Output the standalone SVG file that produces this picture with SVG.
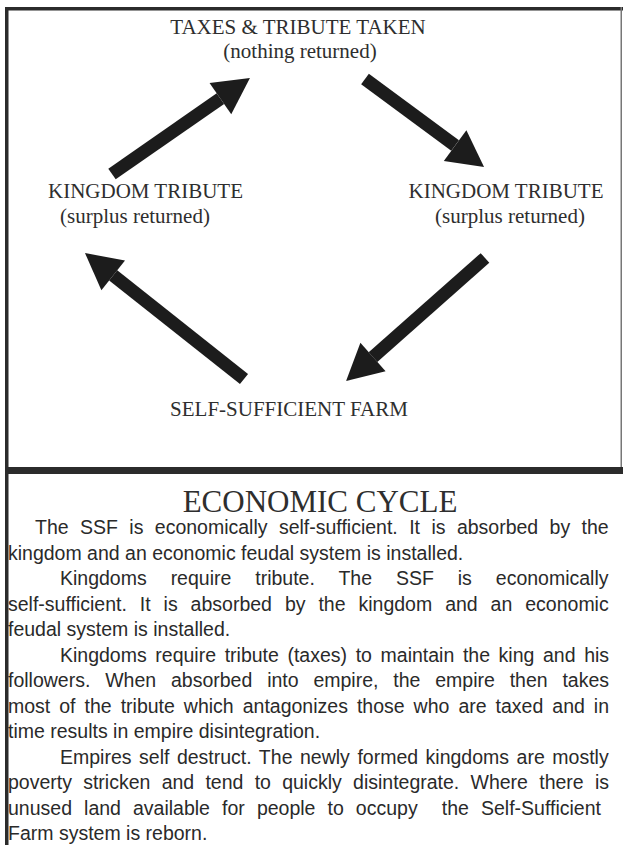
<svg xmlns="http://www.w3.org/2000/svg" width="623" height="845" viewBox="0 0 623 845">
  <style>
    .lbl { font-family: "Liberation Serif", "Times New Roman", serif; font-size: 21px; fill: #2e2e2e; }
    .title { font-family: "Liberation Serif", "Times New Roman", serif; font-size: 31px; fill: #2e2e2e; }
    .body { font-family: "Liberation Sans", Arial, sans-serif; font-size: 19.5px; fill: #2a2a2a; }
    .frame { fill: #2b2b2b; }
    .conn { stroke: #1c1c1c; stroke-width: 13; fill: none; marker-end: url(#head); }
  </style>
  <defs>
    <marker id="head" markerUnits="userSpaceOnUse" markerWidth="40" markerHeight="40" viewBox="0 -20 40 40" refX="0" refY="0" orient="auto" overflow="visible">
      <path d="M0,-19 L36,0 L0,19 Z" fill="#1c1c1c"/>
    </marker>
  </defs>
  <rect width="623" height="845" fill="#ffffff"/>
  <g id="frame">
    <rect class="frame" x="5" y="7" width="618" height="3.5"/>
    <rect class="frame" x="5" y="7" width="3.5" height="838"/>
    <rect x="620.5" y="7" width="1.5" height="462" fill="#777"/>
    <rect class="frame" x="5" y="467" width="618" height="7"/>
  </g>
  <g id="connectors">
    <line class="conn" x1="112" y1="174" x2="220.4" y2="98.6"/>
    <line class="conn" x1="365" y1="79" x2="455.1" y2="145.6"/>
    <line class="conn" x1="485" y1="258" x2="373" y2="357.1"/>
    <line class="conn" x1="244" y1="379" x2="113.2" y2="275.4"/>
  </g>
  <g id="node-taxes">
    <text class="lbl" x="298" y="34" text-anchor="middle">TAXES &amp; TRIBUTE TAKEN</text>
    <text class="lbl" x="300" y="58" text-anchor="middle">(nothing returned)</text>
  </g>
  <g id="node-kingdom-left">
    <text class="lbl" x="48" y="198">KINGDOM TRIBUTE</text>
    <text class="lbl" x="60" y="223">(surplus returned)</text>
  </g>
  <g id="node-kingdom-right">
    <text class="lbl" x="506" y="198" text-anchor="middle">KINGDOM TRIBUTE</text>
    <text class="lbl" x="510" y="223" text-anchor="middle">(surplus returned)</text>
  </g>
  <g id="node-farm">
    <text class="lbl" x="289" y="416" text-anchor="middle">SELF-SUFFICIENT FARM</text>
  </g>
  <g id="panel">
    <text class="title" x="320" y="512" text-anchor="middle">ECONOMIC CYCLE</text>
    <text class="body" x="35" y="534" word-spacing="5.98">The SSF is economically self-sufficient. It is absorbed by the</text>
    <text class="body" x="8" y="559.5">kingdom and an economic feudal system is installed.</text>
    <text class="body" x="60" y="585" word-spacing="18.5">Kingdoms require tribute. The SSF is economically</text>
    <text class="body" x="8" y="610.5" word-spacing="7.53">self-sufficient. It is absorbed by the kingdom and an economic</text>
    <text class="body" x="8" y="636">feudal system is installed.</text>
    <text class="body" x="60" y="661.5" word-spacing="3.2">Kingdoms require tribute (taxes) to maintain the king and his</text>
    <text class="body" x="8" y="687" word-spacing="9.42">followers. When absorbed into empire, the empire then takes</text>
    <text class="body" x="8" y="712.5" word-spacing="3.59">most of the tribute which antagonizes those who are taxed and in</text>
    <text class="body" x="8" y="738">time results in empire disintegration.</text>
    <text class="body" x="60" y="763.5" word-spacing="2.11">Empires self destruct. The newly formed kingdoms are mostly</text>
    <text class="body" x="8" y="789" word-spacing="5.84">poverty stricken and tend to quickly disintegrate. Where there is</text>
    <text class="body" x="8" y="814.5" word-spacing="6.66" xml:space="preserve">unused land available for people to occupy  the Self-Sufficient</text>
    <text class="body" x="8" y="840">Farm system is reborn.</text>
  </g>
</svg>
